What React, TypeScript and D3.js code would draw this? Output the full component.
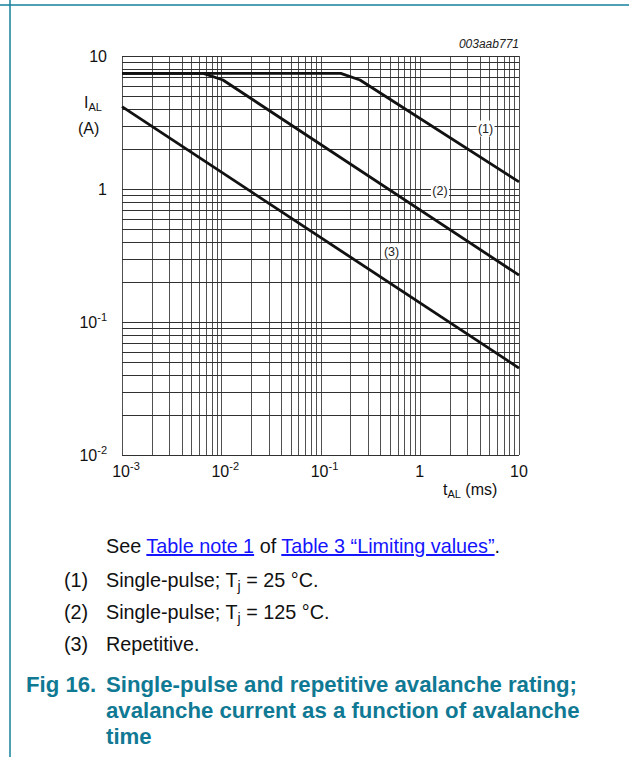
import React from "react";
import * as d3 from "d3";

// Avalanche current I_AL (A) versus avalanche time t_AL (ms)
const curveLabels = ["(1)", "(2)", "(3)"];
const singlePulse25 = [
  { t: 0.001, i: 7.4 },
  { t: 0.16, i: 7.4 },
  { t: 0.25, i: 6.6 },
  { t: 10, i: 1.13 },
];
const singlePulse125 = [
  { t: 0.001, i: 7.4 },
  { t: 0.0066, i: 7.4 },
  { t: 0.0104, i: 6.6 },
  { t: 10, i: 0.225 },
];
const repetitive = [
  { t: 0.001, i: 4.16 },
  { t: 10, i: 0.045 },
];
// label anchor points (in data units) for each curve
const labelAnchors = [
  { t: 4.6, i: 2.85 },
  { t: 1.6, i: 0.97 },
  { t: 0.52, i: 0.34 },
];
const xTickExps = [-3, -2, -1, 0, 1];
const yTickExps = [-2, -1, 0, 1];
const legendItems = [
  { num: "(1)", text: "Single-pulse; T", sub: "j", rest: " = 25 °C." },
  { num: "(2)", text: "Single-pulse; T", sub: "j", rest: " = 125 °C." },
  { num: "(3)", text: "Repetitive.", sub: "", rest: "" },
];
const titleLines = [
  "Single-pulse and repetitive avalanche rating;",
  "avalanche current as a function of avalanche",
  "time",
];

const W = 629;
const H = 757;
const plot = { left: 122, right: 519, top: 56, bottom: 455 };
const FONT = "Arial, 'Liberation Sans', Helvetica, sans-serif";
const TEAL = "#15809c";
const TITLE = "#107993";
const LINK = "#1414ff";

function expLabel(e: number) {
  if (e === 0) return { base: "1", sup: "" };
  if (e === 1) return { base: "10", sup: "" };
  return { base: "10", sup: String(e) };
}

export default function App() {
  const x = d3.scaleLog().domain([0.001, 10]).range([plot.left, plot.right]);
  const y = d3.scaleLog().domain([0.01, 10]).range([plot.bottom, plot.top]);

  const xGrid: number[] = [];
  for (let e = -3; e < 1; e++) for (let m = 1; m <= 9; m++) xGrid.push(m * Math.pow(10, e));
  xGrid.push(10);
  const yGrid: number[] = [];
  for (let e = -2; e < 1; e++) for (let m = 1; m <= 9; m++) yGrid.push(m * Math.pow(10, e));
  yGrid.push(10);

  const line = d3
    .line<{ t: number; i: number }>()
    .x((d) => x(d.t))
    .y((d) => y(d.i));

  const curves = [singlePulse25, singlePulse125, repetitive];

  return (
    <svg
      width={W}
      height={H}
      style={{ position: "absolute", left: 0, top: 0, background: "#fff" }}
      fontFamily={FONT}
    >
      {/* page frame rules */}
      <line x1={0} x2={W} y1={5} y2={5} stroke={TEAL} strokeWidth={1.5} />
      <line x1={10} x2={10} y1={0} y2={H} stroke={TEAL} strokeWidth={1.5} />

      {/* grid */}
      <g shapeRendering="crispEdges">
        {xGrid.map((v, k) => (
          <line key={"vx" + k} x1={Math.round(x(v))} x2={Math.round(x(v))} y1={plot.top} y2={plot.bottom} stroke="#505050" strokeWidth={1} />
        ))}
        {yGrid.map((v, k) => (
          <line key={"hy" + k} x1={plot.left} x2={plot.right} y1={Math.round(y(v))} y2={Math.round(y(v))} stroke="#303030" strokeWidth={1} />
        ))}
      </g>

      {/* curves */}
      {curves.map((c, k) => (
        <path key={"c" + k} d={line(c) || ""} fill="none" stroke="#111" strokeWidth={2.8} strokeLinejoin="round" />
      ))}

      {/* curve labels */}
      {labelAnchors.map((p, k) => (
        <g key={"l" + k} transform={`translate(${x(p.t)},${y(p.i)})`}>
          <rect x={-9} y={-8} width={18} height={16} fill="#fff" />
          <text textAnchor="middle" dy={4.5} fontSize={12.5} fill="#222">
            {curveLabels[k]}
          </text>
        </g>
      ))}

      {/* y tick labels */}
      {yTickExps.map((e) => {
        const l = expLabel(e);
        return (
          <text key={"yt" + e} x={107} y={y(Math.pow(10, e)) + 6} textAnchor="end" fontSize={16} fill="#111">
            {l.base}
            {l.sup && (
              <tspan fontSize={11} dy={-7}>
                {l.sup}
              </tspan>
            )}
          </text>
        );
      })}

      {/* x tick labels */}
      {xTickExps.map((e) => {
        const l = expLabel(e);
        return (
          <text key={"xt" + e} x={x(Math.pow(10, e)) + (l.sup ? 4 : 0)} y={477} textAnchor="middle" fontSize={16} fill="#111">
            {l.base}
            {l.sup && (
              <tspan fontSize={11} dy={-7}>
                {l.sup}
              </tspan>
            )}
          </text>
        );
      })}

      {/* axis titles */}
      <text x={84} y={108} fontSize={16} fill="#111">
        I<tspan fontSize={11} dy={3}>AL</tspan>
      </text>
      <text x={78} y={134} fontSize={16} fill="#111">
        (A)
      </text>
      <text x={443} y={495} fontSize={16} fill="#111">
        t<tspan fontSize={11} dy={3}>AL</tspan>
        <tspan dy={-3}> (ms)</tspan>
      </text>
      <text x={plot.right} y={48} textAnchor="end" fontSize={12} fontStyle="italic" fill="#222">
        003aab771
      </text>

      {/* notes */}
      <text x={106} y={553} fontSize={19.8} fill="#111">
        See{" "}
        <tspan fill={LINK} textDecoration="underline">Table note 1</tspan>
        <tspan> of </tspan>
        <tspan fill={LINK} textDecoration="underline">Table 3 “Limiting values”</tspan>
        <tspan>.</tspan>
      </text>
      {legendItems.map((it, k) => (
        <g key={"lg" + k}>
          <text x={64} y={587 + k * 32} fontSize={19.8} fill="#111">
            {it.num}
          </text>
          <text x={106} y={587 + k * 32} fontSize={19.8} fill="#111">
            {it.text}
            {it.sub && (
              <tspan fontSize={14} dy={4}>
                {it.sub}
              </tspan>
            )}
            {it.rest && <tspan dy={it.sub ? -4 : 0}>{it.rest}</tspan>}
          </text>
        </g>
      ))}

      {/* caption */}
      <text x={26} y={692} fontSize={22.2} fontWeight="bold" fill={TITLE}>
        Fig 16.
      </text>
      {titleLines.map((s, k) => (
        <text key={"tl" + k} x={106} y={692 + k * 26} fontSize={22.2} fontWeight="bold" fill={TITLE}>
          {s}
        </text>
      ))}
    </svg>
  );
}
